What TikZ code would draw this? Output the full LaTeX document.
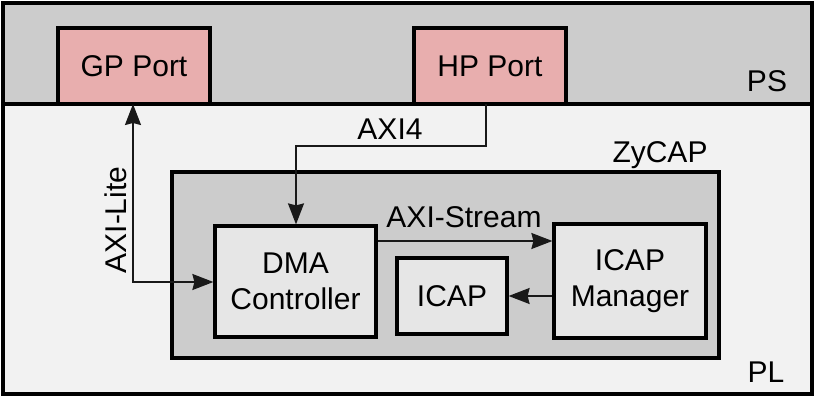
\documentclass[tikz,border=0pt]{standalone}
\usepackage{fontspec}
\setmainfont{Liberation Sans}
\usetikzlibrary{arrows.meta}
\definecolor{psgray}{HTML}{CCCCCC}
\definecolor{plgray}{HTML}{F2F2F2}
\definecolor{boxgray}{HTML}{E6E6E6}
\definecolor{portpink}{HTML}{E8AEAE}
\tikzset{
  lbl/.style={font=\fontsize{30}{32}\selectfont, inner sep=0pt},
  blk/.style={draw=black, line width=3.2pt, fill=boxgray, align=center, inner sep=0pt,
              font=\fontsize{30}{36}\selectfont},
  port/.style={blk, fill=portpink},
  conn/.style={draw=black!90, line width=1.7pt, -{Stealth[length=21pt,width=16pt,inset=2pt]}},
  conn2/.style={draw=black!90, line width=1.7pt, {Stealth[length=21pt,width=16pt,inset=2pt]}-{Stealth[length=21pt,width=16pt,inset=2pt]}},
}
\begin{document}
\begin{tikzpicture}[x=1pt,y=-1pt]
\useasboundingbox (0,0) rectangle (820,403);
% regions
\path[fill=psgray] (3,3) rectangle (812,104);
\path[fill=plgray] (3,104) rectangle (812,394);
% ports
\node[port, minimum width=152pt, minimum height=76pt] (gp) at (134,66) {GP Port};
\node[port, minimum width=152pt, minimum height=76pt] (hp) at (490,66) {HP Port};
% divider and frame
\draw[line width=3.5pt] (3,104) -- (812,104);
\draw[line width=4pt] (3,3) rectangle (812,394);
% zycap
\node[blk, fill=psgray, minimum width=547pt, minimum height=186pt] (zy) at (445.5,265) {};
% inner blocks
\node[blk, minimum width=161pt, minimum height=111pt] (dma) at (295.5,281.5) {DMA\\Controller};
\node[blk, minimum width=110pt, minimum height=76pt] (icap) at (452,296) {ICAP};
\node[blk, minimum width=152pt, minimum height=114pt] (mgr) at (630,281) {ICAP\\Manager};
% labels
\node[lbl, anchor=base] (ps) at (767,92) {PS};
\node[lbl, anchor=base] (pl) at (766,383) {PL};
\node[lbl, anchor=base] (zylbl) at (660,163) {ZyCAP};
\node[lbl, anchor=base] (axi4) at (390,140) {AXI4};
\node[lbl, anchor=base] (axis) at (464,228) {AXI-Stream};
\node[lbl, anchor=base, rotate=90] (axil) at (126,220) {AXI-Lite};
% connectors
\coordinate (hpout) at (486,104);
\coordinate (bend) at (296,146);
\coordinate (gpin) at (133,104);
\coordinate (litey) at (133,282);
\coordinate (streamy) at (0,241);
\draw[conn] (hpout) |- (bend) -- (bend |- dma.north);
\draw[conn2] (gpin) |- (dma.west |- litey);
\draw[conn] (dma.east |- streamy) -- (mgr.west |- streamy);
\draw[conn] (mgr.west |- icap.east) -- (icap.east);
\end{tikzpicture}
\end{document}
